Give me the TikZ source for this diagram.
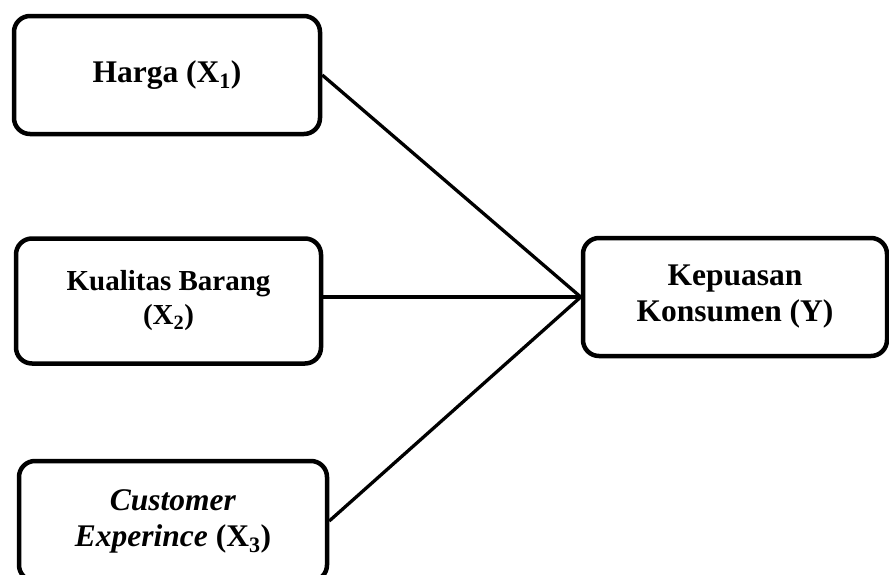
\documentclass[tikz,border=0pt]{standalone}
\usepackage{fontspec}
\setmainfont{Liberation Serif}

\tikzset{
  varbox/.style={draw, line width=4.5pt, rounded corners=16pt, align=center,
    font=\fontsize{31.5}{36}\selectfont\bfseries, inner sep=0pt},
  link/.style={line width=3.3pt}
}

\begin{document}
\begin{tikzpicture}
  \useasboundingbox (0,0) rectangle (889pt,-574pt);
  \clip (0,0) rectangle (889pt,-574pt);

  % Draw the three independent variables
  \node[varbox, minimum width=306pt, minimum height=118pt] (harga) at (167pt,-75pt) {Harga (X\textsubscript{1})};
  \node[varbox, minimum width=305pt, minimum height=125pt, font=\fontsize{29}{34}\selectfont\bfseries] (kualitas) at (168.5pt,-301pt) {Kualitas Barang\\(X\textsubscript{2})};
  \node[varbox, minimum width=308pt, minimum height=120pt] (customer) at (173pt,-521pt) {\textit{Customer}\\\textit{Experince} (X\textsubscript{3})};

  % Draw the dependent variable
  \node[varbox, minimum width=304pt, minimum height=118pt] (kepuasan) at (735pt,-297pt) {Kepuasan\\Konsumen (Y)};

  % Draw the links
  \draw[link] (harga.east) -- (kepuasan.west);
  \draw[link] (kualitas.east |- kepuasan.west) -- (kepuasan.west);
  \draw[link] (customer.east) -- (kepuasan.west);

\end{tikzpicture}
\end{document}
